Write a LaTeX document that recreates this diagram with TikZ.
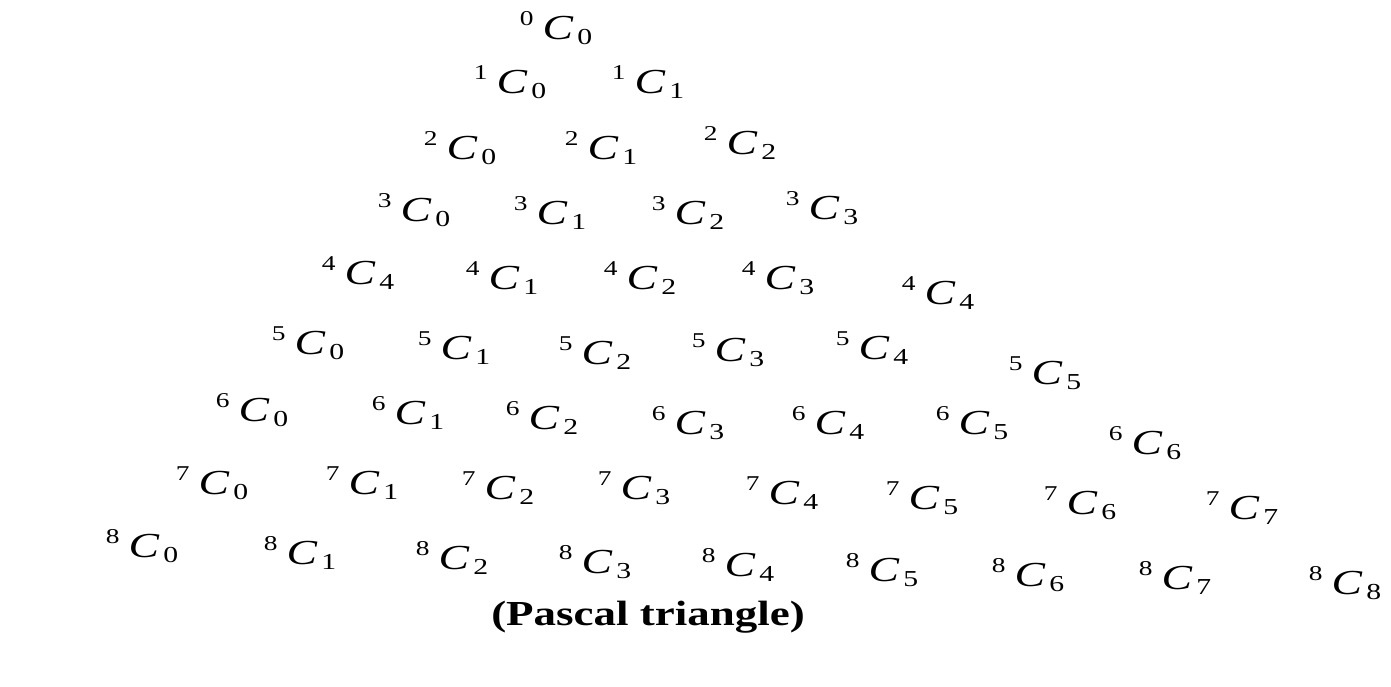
\documentclass[tikz,border=0pt]{standalone}
\usepackage{fontspec}
\setmainfont{Liberation Serif}
\usepackage{graphicx}
\usepackage{tikz}

\newcommand{\nCr}[2]{\scalebox{1.3}[1]{\raisebox{0.4em}{\fontsize{12}{12}\selectfont #1}\kern0.2em\textit{C}\kern0.08em\raisebox{-0.14em}{\fontsize{13}{13}\selectfont #2}}}

\tikzset{
  entry/.style={inner sep=0pt, font=\fontsize{20}{24}\selectfont},
  caption/.style={inner sep=0pt, anchor=base, font=\fontsize{20}{24}\selectfont\bfseries}
}

\begin{document}
\begin{tikzpicture}[x=0.02cm,y=-0.02cm]
        \useasboundingbox (0,0) rectangle (1391,686);
        % Row 0 to 3
        \node (r0k0) [entry] at (556,28) {\nCr{0}{0}};
        \node (r1k0) [entry] at (510,82) {\nCr{1}{0}};
        \node (r1k1) [entry] at (648,82) {\nCr{1}{1}};
        \node (r2k0) [entry] at (460,148) {\nCr{2}{0}};
        \node (r2k1) [entry] at (601,148) {\nCr{2}{1}};
        \node (r2k2) [entry] at (740,143) {\nCr{2}{2}};
        \node (r3k0) [entry] at (414,210) {\nCr{3}{0}};
        \node (r3k1) [entry] at (550,213) {\nCr{3}{1}};
        \node (r3k2) [entry] at (688,213) {\nCr{3}{2}};
        \node (r3k3) [entry] at (822,208) {\nCr{3}{3}};

        % Row 4 to 6
        \node (r4k0) [entry] at (358,273) {\nCr{4}{4}};
        \node (r4k1) [entry] at (502,278) {\nCr{4}{1}};
        \node (r4k2) [entry] at (640,278) {\nCr{4}{2}};
        \node (r4k3) [entry] at (778,278) {\nCr{4}{3}};
        \node (r4k4) [entry] at (938,293) {\nCr{4}{4}};
        \node (r5k0) [entry] at (308,343) {\nCr{5}{0}};
        \node (r5k1) [entry] at (454,348) {\nCr{5}{1}};
        \node (r5k2) [entry] at (595,353) {\nCr{5}{2}};
        \node (r5k3) [entry] at (728,350) {\nCr{5}{3}};
        \node (r5k4) [entry] at (872,348) {\nCr{5}{4}};
        \node (r5k5) [entry] at (1045,373) {\nCr{5}{5}};
        \node (r6k0) [entry] at (252,410) {\nCr{6}{0}};
        \node (r6k1) [entry] at (408,413) {\nCr{6}{1}};
        \node (r6k2) [entry] at (542,418) {\nCr{6}{2}};
        \node (r6k3) [entry] at (688,423) {\nCr{6}{3}};
        \node (r6k4) [entry] at (828,423) {\nCr{6}{4}};
        \node (r6k5) [entry] at (972,423) {\nCr{6}{5}};
        \node (r6k6) [entry] at (1145,443) {\nCr{6}{6}};

        % Row 7 and 8
        \node (r7k0) [entry] at (212,483) {\nCr{7}{0}};
        \node (r7k1) [entry] at (362,483) {\nCr{7}{1}};
        \node (r7k2) [entry] at (498,488) {\nCr{7}{2}};
        \node (r7k3) [entry] at (634,488) {\nCr{7}{3}};
        \node (r7k4) [entry] at (782,493) {\nCr{7}{4}};
        \node (r7k5) [entry] at (922,498) {\nCr{7}{5}};
        \node (r7k6) [entry] at (1080,503) {\nCr{7}{6}};
        \node (r7k7) [entry] at (1242,508) {\nCr{7}{7}};
        \node (r8k0) [entry] at (142,546) {\nCr{8}{0}};
        \node (r8k1) [entry] at (300,553) {\nCr{8}{1}};
        \node (r8k2) [entry] at (452,558) {\nCr{8}{2}};
        \node (r8k3) [entry] at (595,562) {\nCr{8}{3}};
        \node (r8k4) [entry] at (738,565) {\nCr{8}{4}};
        \node (r8k5) [entry] at (882,570) {\nCr{8}{5}};
        \node (r8k6) [entry] at (1028,575) {\nCr{8}{6}};
        \node (r8k7) [entry] at (1175,578) {\nCr{8}{7}};
        \node (r8k8) [entry] at (1345,583) {\nCr{8}{8}};

        % Caption
        \node (title) [caption] at (648,625) {\scalebox{1.28}[1]{(Pascal triangle)}};
    \end{tikzpicture}
\end{document}
